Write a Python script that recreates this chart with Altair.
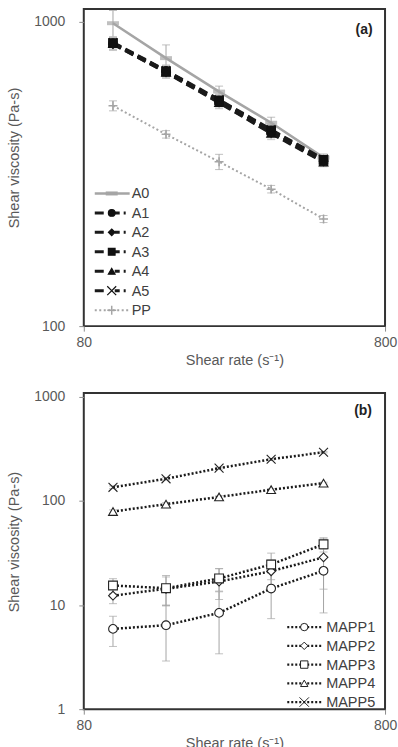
import altair as alt
import pandas as pd

# Shear rates (1/s) shared by both panels
shear_rate = [100, 150, 225, 335, 500]

# Panel (a): viscosity (Pa-s) and standard deviation
a0 = [990, 760, 590, 466, 358]
a0_err = [100, 80, 25, 20, 10]
a1 = [850, 690, 550, 438, 350]
a2 = [845, 684, 545, 432, 348]
a3 = [852, 688, 552, 440, 352]
a4 = [848, 682, 543, 430, 346]
a5 = [855, 692, 555, 442, 354]
a_err = [40, 30, 25, 20, 12]
pp = [530, 427, 347, 282, 225]
pp_err = [20, 12, 20, 8, 6]

# Panel (b): viscosity (Pa-s) and standard deviation
mapp1 = [5.9, 6.4, 8.4, 14.4, 21.3]
mapp1_err = [1.9, 3.5, 5.0, 7.0, 12.9]
mapp2 = [12.3, 14.3, 16.8, 21.1, 28.7]
mapp2_err = [2.0, 4.3, 5.5, 6.0, 14.5]
mapp3 = [15.4, 14.5, 18.0, 24.5, 38.3]
mapp3_err = [2.5, 4.7, 4.4, 7.0, 6.0]
mapp4 = [79, 93, 109, 128, 148]
mapp4_err = [3, 3, 3, 3, 3]
mapp5 = [135, 163, 206, 251, 293]
mapp5_err = [4, 4, 4, 4, 4]

FONT = "Liberation Sans"
GRAY = "#a5a5a5"
TEXT = "#404040"
X_PATH = "M-1,-1L1,1M-1,1L1,-1"
PLUS_PATH = "M-1,0L1,0M0,-1L0,1"


def frame(series):
    rows = []
    for name, (vals, errs) in series.items():
        for r, v, e in zip(shear_rate, vals, errs):
            rows.append({"series": name, "rate": r, "value": v,
                         "lo": v - e, "hi": v + e})
    return pd.DataFrame(rows)


df_a = frame({
    "A0": (a0, a0_err), "A1": (a1, a_err), "A2": (a2, a_err),
    "A3": (a3, a_err), "A4": (a4, a_err), "A5": (a5, a_err),
    "PP": (pp, pp_err),
})
df_b = frame({
    "MAPP1": (mapp1, mapp1_err), "MAPP2": (mapp2, mapp2_err),
    "MAPP3": (mapp3, mapp3_err), "MAPP4": (mapp4, mapp4_err),
    "MAPP5": (mapp5, mapp5_err),
})

x_enc = alt.X(
    "rate:Q",
    scale=alt.Scale(type="log", domain=[80, 800], nice=False, zero=False),
    axis=alt.Axis(values=[80, 800], format="d", title="Shear rate (s⁻¹)",
                  labelFlush=False),
)


def y_field(field, domain, ticks):
    return alt.Y(
        field,
        scale=alt.Scale(type="log", domain=domain, nice=False, zero=False),
        axis=alt.Axis(values=ticks, format="d", title="Shear viscosity (Pa-s)",
                      labelFlush=False, titleY=149),
    )


def y_enc(domain, ticks):
    return y_field("value:Q", domain, ticks)


def err_layers(base, y_dom, y_ticks, color):
    bars = base.mark_rule(color=color, strokeWidth=1).encode(
        x=x_enc, y=y_field("lo:Q", y_dom, y_ticks), y2="hi:Q")
    cap_lo = base.mark_tick(orient="horizontal", color=color, size=8,
                            thickness=1).encode(x=x_enc, y=y_field("lo:Q", y_dom, y_ticks))
    cap_hi = base.mark_tick(orient="horizontal", color=color, size=8,
                            thickness=1).encode(x=x_enc, y=y_field("hi:Q", y_dom, y_ticks))
    return [bars, cap_lo, cap_hi]


# ---------------- panel (a) ----------------
YA_DOM, YA_TICKS = [100, 1103], [100, 1000]
base_a = alt.Chart(df_a)
dashed = ["A1", "A2", "A3", "A4", "A5"]

layers_a = []
layers_a += err_layers(base_a.transform_filter(alt.FieldOneOfPredicate("series", ["A0", "PP"])),
                       YA_DOM, YA_TICKS, GRAY)
layers_a += err_layers(base_a.transform_filter(alt.FieldOneOfPredicate("series", dashed)),
                       YA_DOM, YA_TICKS, "#c0c0c0")

layers_a.append(base_a.transform_filter(alt.datum.series == "PP").mark_line(
    color=GRAY, strokeWidth=2, strokeDash=[2, 2.5]).encode(
    x=x_enc, y=y_enc(YA_DOM, YA_TICKS)))
layers_a.append(base_a.transform_filter(alt.datum.series == "PP").mark_point(
    shape=PLUS_PATH, size=80, color=GRAY, strokeWidth=1.5, opacity=1).encode(
    x=x_enc, y=y_enc(YA_DOM, YA_TICKS)))

layers_a.append(base_a.transform_filter(alt.datum.series == "A0").mark_line(
    color=GRAY, strokeWidth=2.5).encode(x=x_enc, y=y_enc(YA_DOM, YA_TICKS)))
layers_a.append(base_a.transform_filter(alt.datum.series == "A0").mark_tick(
    orient="horizontal", color=GRAY, size=12, thickness=4).encode(
    x=x_enc, y=y_enc(YA_DOM, YA_TICKS)))

layers_a.append(base_a.transform_filter(alt.FieldOneOfPredicate("series", dashed)).mark_line(
    color="#1a1a1a", strokeWidth=3.2, strokeDash=[9, 5]).encode(
    x=x_enc, y=y_enc(YA_DOM, YA_TICKS), detail="series:N"))
layers_a.append(base_a.transform_filter(alt.FieldOneOfPredicate("series", dashed)).mark_point(
    filled=True, fill="#111111", stroke="#111111", strokeWidth=1.3, opacity=1).encode(
    x=x_enc, y=y_enc(YA_DOM, YA_TICKS),
    shape=alt.Shape("series:N", scale=alt.Scale(
        domain=dashed, range=["circle", "diamond", "square", "triangle-up", X_PATH]),
        legend=None),
    size=alt.Size("series:N", scale=alt.Scale(
        domain=dashed, range=[70, 80, 50, 170, 180]), legend=None),
))

# legend of panel (a), drawn inside the plot area
LEG_A_Y0, LEG_A_DY = 185, 19.5
names_a = ["A0", "A1", "A2", "A3", "A4", "A5", "PP"]
leg_a_shapes = {"A1": "circle", "A2": "diamond", "A3": "square",
                "A4": "triangle-up", "A5": X_PATH}
dot_pt = alt.Chart(pd.DataFrame({"k": [0]}))
for i, name in enumerate(names_a):
    yy = LEG_A_Y0 + i * LEG_A_DY
    if name == "A0":
        layers_a.append(dot_pt.mark_rule(color=GRAY, strokeWidth=2.5).encode(
            x=alt.value(11), x2=alt.value(46), y=alt.value(yy)))
        layers_a.append(dot_pt.mark_rule(color=GRAY, strokeWidth=4).encode(
            x=alt.value(22), x2=alt.value(34), y=alt.value(yy)))
    elif name == "PP":
        layers_a.append(dot_pt.mark_rule(color=GRAY, strokeWidth=2, strokeDash=[2, 2.5]).encode(
            x=alt.value(11), x2=alt.value(46), y=alt.value(yy)))
        layers_a.append(dot_pt.mark_point(shape=PLUS_PATH, size=80, color=GRAY,
                                          strokeWidth=1.5, opacity=1).encode(
            x=alt.value(28), y=alt.value(yy)))
    else:
        layers_a.append(dot_pt.mark_rule(color="#1a1a1a", strokeWidth=3,
                                         strokeDash=[9, 11, 5, 4, 2, 20]).encode(
            x=alt.value(11), x2=alt.value(44), y=alt.value(yy)))
        layers_a.append(dot_pt.mark_point(shape=leg_a_shapes[name], size=45 if name != "A5" else 80,
                                          filled=True, fill="#111111", stroke="#111111",
                                          strokeWidth=1.2, opacity=1).encode(
            x=alt.value(28), y=alt.value(yy)))
    layers_a.append(dot_pt.mark_text(text=name, font=FONT, fontSize=14.5, color=TEXT,
                                     align="left", baseline="middle").encode(
        x=alt.value(48), y=alt.value(yy + 1)))

layers_a.append(dot_pt.mark_text(text="(a)", font=FONT, fontSize=14, fontWeight="bold",
                                 color="#222222", align="center", baseline="middle").encode(
    x=alt.value(281), y=alt.value(21)))

panel_a = alt.layer(*layers_a).properties(width=302, height=318)

# ---------------- panel (b) ----------------
YB_DOM, YB_TICKS = [1, 1087], [1, 10, 100, 1000]
base_b = alt.Chart(df_b)
names_b = ["MAPP1", "MAPP2", "MAPP3", "MAPP4", "MAPP5"]
shapes_b = ["circle", "diamond", "square", "triangle-up", X_PATH]

layers_b = []
layers_b += err_layers(base_b, YB_DOM, YB_TICKS, GRAY)
layers_b.append(base_b.mark_line(color="#1a1a1a", strokeWidth=2.5, strokeDash=[2, 2]).encode(
    x=x_enc, y=y_enc(YB_DOM, YB_TICKS), detail="series:N"))
layers_b.append(base_b.mark_point(filled=True, fill="white", stroke="#222222",
                                  strokeWidth=1.1, opacity=1).encode(
    x=x_enc, y=y_enc(YB_DOM, YB_TICKS),
    shape=alt.Shape("series:N", scale=alt.Scale(domain=names_b, range=shapes_b), legend=None),
    size=alt.Size("series:N", scale=alt.Scale(
        domain=names_b, range=[100, 100, 90, 120, 190]), legend=None),
))

LEG_B_Y0, LEG_B_DY = 234.7, 18.8
for i, name in enumerate(names_b):
    yy = LEG_B_Y0 + i * LEG_B_DY
    layers_b.append(dot_pt.mark_rule(color="#1a1a1a", strokeWidth=2.2, strokeDash=[2, 2]).encode(
        x=alt.value(204), x2=alt.value(240), y=alt.value(yy)))
    layers_b.append(dot_pt.mark_point(shape=shapes_b[i], size=55 if i < 4 else 90,
                                      filled=True, fill="white", stroke="#222222",
                                      strokeWidth=1, opacity=1).encode(
        x=alt.value(221), y=alt.value(yy)))
    layers_b.append(dot_pt.mark_text(text=name, font=FONT, fontSize=14.5, color=TEXT,
                                     align="left", baseline="middle").encode(
        x=alt.value(243), y=alt.value(yy + 1)))

layers_b.append(dot_pt.mark_text(text="(b)", font=FONT, fontSize=14, fontWeight="bold",
                                 color="#222222", align="center", baseline="middle").encode(
    x=alt.value(280), y=alt.value(18)))

panel_b = alt.layer(*layers_b).properties(width=302, height=317)

chart = alt.vconcat(panel_a, panel_b, spacing=20).configure(
    padding={"left": 5, "top": 7, "right": 0, "bottom": 0},
    background="white",
).configure_view(
    stroke="#333333", strokeWidth=2,
).configure_axis(
    grid=False, domain=False,
    labelFont=FONT, labelFontSize=14, labelColor="#595959",
    titleFont=FONT, titleFontSize=14.5, titleColor="#595959", titleFontWeight="normal",
    tickColor="#8c8c8c", tickSize=5,
).configure_axisY(
    labelPadding=14, titlePadding=12,
).configure_axisX(
    labelPadding=4, titlePadding=4,
)

chart.save("out.html", embed_options={"renderer": "svg", "actions": False})
